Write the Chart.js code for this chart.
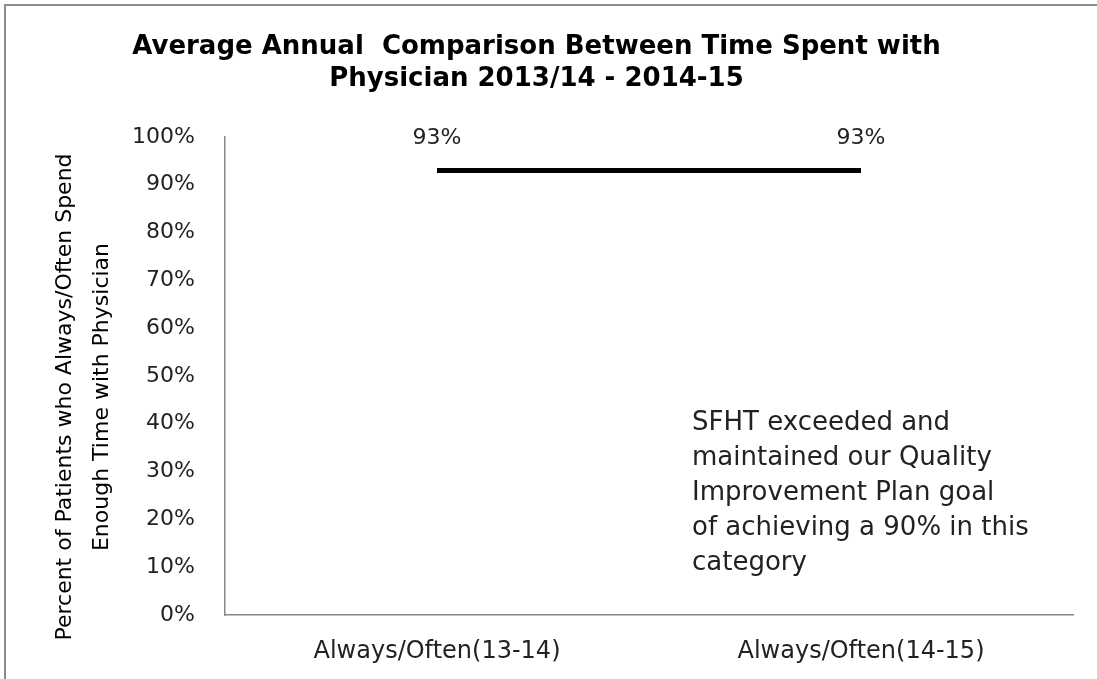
<!DOCTYPE html>
<html>
<head>
<meta charset="utf-8">
<title>Time Spent with Physician</title>
<script src="https://cdn.jsdelivr.net/npm/chart.js@4.4.0/dist/chart.umd.min.js"></script>
<style>
  body { margin: 0; background: #fff; }
  #grafico { display: block; }
</style>
</head>
<body>
<canvas id="grafico" width="1097" height="679"></canvas>
<script>
// Datos del gráfico
const categorias = ["Always/Often(13-14)", "Always/Often(14-15)"];
const valores = [93, 93];
const marcasY = [0, 10, 20, 30, 40, 50, 60, 70, 80, 90, 100];
const tituloGrafico = ["Average Annual  Comparison Between Time Spent with", "Physician 2013/14 - 2014-15"];
const tituloEjeY = ["Percent of Patients who Always/Often Spend", "Enough Time with Physician"];
const nota = ["SFHT exceeded and", "maintained our Quality", "Improvement Plan goal", "of achieving a 90% in this", "category"];

const fuente = "'DejaVu Sans', sans-serif";

// Plugin para el marco, las etiquetas de datos, el título del eje Y y la nota
const extras = {
    id: 'extras',
    beforeDraw(chart) {
        const ctx = chart.ctx;
        ctx.save();
        ctx.strokeStyle = '#8c8c8c';
        ctx.lineWidth = 2;
        ctx.beginPath();
        ctx.moveTo(5, chart.height);
        ctx.lineTo(5, 5);
        ctx.lineTo(chart.width, 5);
        ctx.stroke();
        ctx.restore();
    },
    afterDatasetsDraw(chart) {
        const ctx = chart.ctx;
        ctx.save();
        ctx.fillStyle = '#222';

        // Etiquetas encima de cada punto
        ctx.font = `22px ${fuente}`;
        ctx.textAlign = 'center';
        ctx.textBaseline = 'middle';
        chart.getDatasetMeta(0).data.forEach((p, i) => {
            ctx.fillText(valores[i] + '%', p.x, p.y - 32);
        });

        // Título del eje Y (dos líneas, rotado)
        ctx.save();
        ctx.fillStyle = '#000';
        ctx.translate(65, 397);
        ctx.rotate(-Math.PI / 2);
        ctx.font = `22px ${fuente}`;
        tituloEjeY.forEach((linea, i) => ctx.fillText(linea, 0, i * 37));
        ctx.restore();

        // Nota a la derecha
        ctx.font = `26px ${fuente}`;
        ctx.textAlign = 'left';
        ctx.textBaseline = 'alphabetic';
        nota.forEach((linea, i) => ctx.fillText(linea, 692, 430 + i * 35));
        ctx.restore();
    }
};

const ctx = document.getElementById("grafico").getContext("2d");
const grafico = new Chart(ctx, {
    type: 'line',
    data: {
        labels: categorias,
        datasets: [{
            data: valores,
            borderColor: '#000000',
            borderWidth: 5,
            pointRadius: 0,
            tension: 0
        }]
    },
    options: {
        responsive: false,
        animation: false,
        layout: {
            padding: { left: 0, right: 24, top: 0, bottom: 0 }
        },
        plugins: {
            legend: { display: false },
            tooltip: { enabled: false },
            title: {
                display: true,
                text: tituloGrafico,
                color: '#000',
                font: { family: fuente, size: 26, weight: 'bold', lineHeight: 1.21 },
                padding: { top: 32, bottom: 42 }
            }
        },
        scales: {
            x: {
                offset: true,
                grid: { display: false, drawTicks: false },
                border: { display: true, color: '#888888', width: 1.5 },
                ticks: {
                    color: '#222',
                    padding: 22,
                    maxRotation: 0,
                    font: { family: fuente, size: 24 }
                },
                afterFit: scale => { scale.height = 64; }
            },
            y: {
                min: 0,
                max: 100,
                grid: { display: false, drawTicks: false },
                border: { display: true, color: '#888888', width: 1.5 },
                afterBuildTicks: scale => { scale.ticks = marcasY.map(v => ({ value: v })); },
                ticks: {
                    color: '#222',
                    padding: 30,
                    font: { family: fuente, size: 22 },
                    callback: v => v + '%'
                },
                afterFit: scale => { scale.width = 225; }
            }
        }
    },
    plugins: [extras]
});
</script>
</body>
</html>
